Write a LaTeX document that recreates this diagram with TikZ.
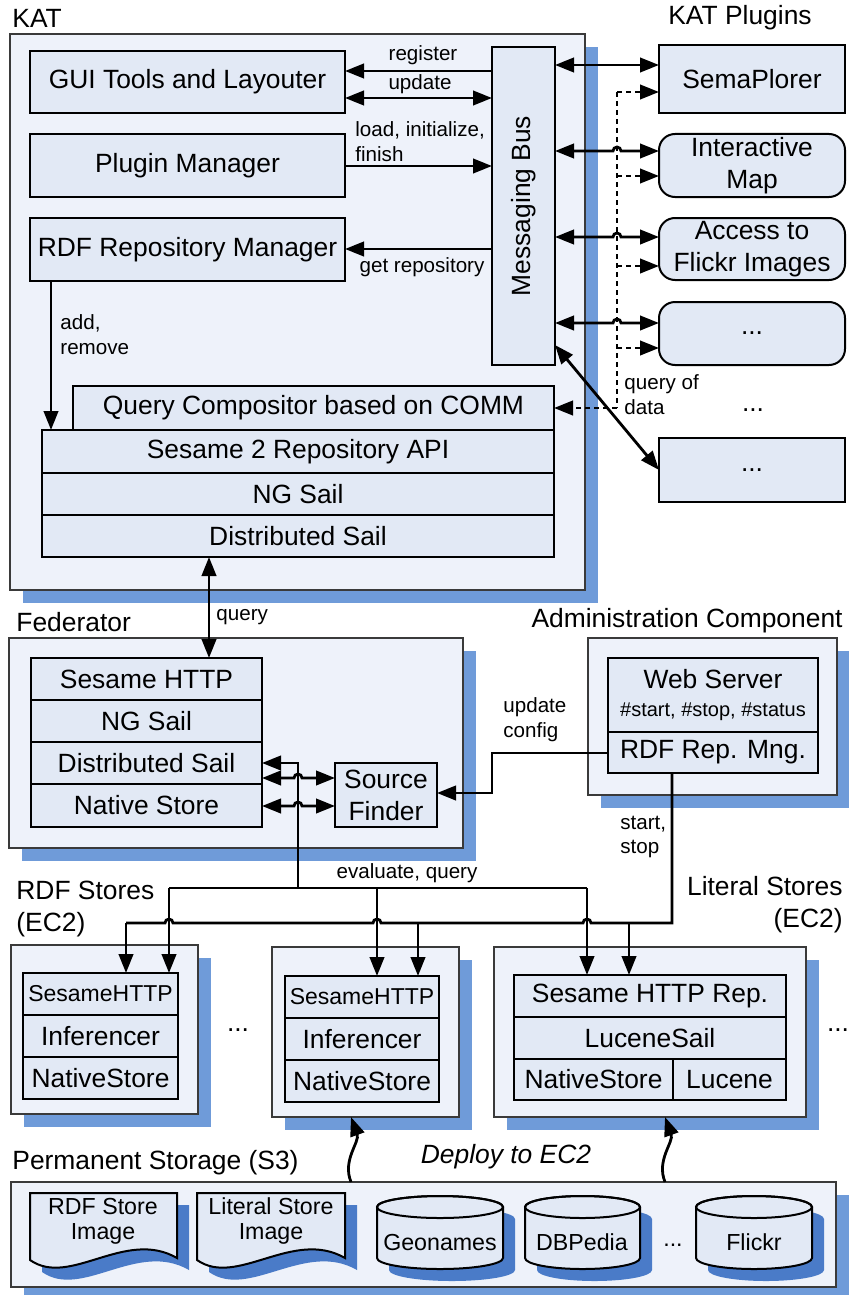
\documentclass[tikz,border=0pt]{standalone}
\usepackage{fontspec}
\setmainfont{Liberation Sans}
\usetikzlibrary{arrows.meta}
\definecolor{outerfill}{HTML}{EEF2FA}
\definecolor{innerfill}{HTML}{E2E9F5}
\definecolor{shadowc}{HTML}{6F9BD9}
\definecolor{shadowd}{HTML}{4A7BC8}
\definecolor{outerdraw}{HTML}{3A3A3A}
\newcommand{\fbig}{\fontsize{13.2}{16}\selectfont}
\newcommand{\flbl}{\fontsize{10.3}{12.4}\selectfont}
\newcommand{\bx}[7]{\node[#6, minimum width={0.5pt*(#4-#2)}, minimum height={0.5pt*(#5-#3)}] (#1) at ({(#2+#4)/2},{(#3+#5)/2}) {#7};}
\newcommand{\shd}[4]{\fill[shadowc] ({#1+13},{#2+13}) rectangle ({#3+13},{#4+13});}
\tikzset{
  tipa/.tip={Triangle[length=9.5pt,width=7.2pt]},
  outerbox/.style={draw=outerdraw, line width=0.6pt, fill=outerfill, inner sep=0pt, outer sep=0pt},
  innerbox/.style={draw=black, line width=1pt, fill=innerfill, inner sep=0pt, outer sep=0pt, align=center, font=\fbig},
  roundbox/.style={innerbox, rounded corners=8pt},
  conn/.style={line width=1.4pt},
  arr/.style={conn, -tipa},
  darr/.style={conn, tipa-tipa},
  dotl/.style={line width=1.4pt, dash pattern=on 2.5pt off 2pt},
  dotarr/.style={dotl, -tipa},
  lbl/.style={font=\flbl, inner sep=0pt, align=left},
  hdr/.style={font=\fbig, inner sep=0pt, align=left},
  txt/.style={font=\fbig, inner sep=0pt},
  doctext/.style={font=\fontsize{11.6}{12.5}\selectfont, inner sep=0pt, align=center},
  cylbody/.style={draw=black, line width=1pt, fill=innerfill},
}
\begin{document}
\begin{tikzpicture}[x=0.5pt,y=-0.5pt]
\useasboundingbox (0,0) rectangle (849,1295);
\fill[white] (0,0) rectangle (849,1295);

% ================= KAT =================
\node[hdr, anchor=west] (katlbl) at (12,18) {KAT};
\shd{10}{34}{585}{590}
\bx{kat}{10}{34}{585}{590}{outerbox}{}
\bx{gui}{30}{51}{345}{113}{innerbox}{GUI Tools and Layouter}
\bx{pm}{30}{134}{345}{197}{innerbox}{Plugin Manager}
\bx{rdfrm}{30}{218}{345}{281}{innerbox}{RDF Repository Manager}
\bx{bus}{492}{47}{555}{365}{innerbox}{}
\node[txt, rotate=90] (bustxt) at (bus) {Messaging Bus};
\bx{qc}{73}{386}{554}{430}{innerbox}{Query Compositor based on COMM}
\bx{sra}{42}{430}{554}{473}{innerbox}{Sesame 2 Repository API}
\bx{ngs}{42}{473}{554}{515}{innerbox}{NG Sail}
\bx{dsl}{42}{515}{554}{557}{innerbox}{Distributed Sail}

\draw[arr] (bus.west |- 0,71) -- (gui.east |- 0,71);
\node[lbl] (lreg) at (423,55) {register};
\draw[darr] (gui.east |- 0,98) -- (bus.west |- 0,98);
\node[lbl] (lupd) at (420,84) {update};
\draw[arr] (pm.east |- 0,166) -- (bus.west |- 0,166);
\node[lbl, anchor=west] (lload) at (355,142) {load, initialize,\\finish};
\draw[arr] (bus.west |- 0,249) -- (rdfrm.east |- 0,249);
\node[lbl] (lget) at (422,267) {get repository};
\draw[arr] (rdfrm.south -| 51,0) -- (sra.north -| 51,0);
\node[lbl, anchor=west] (ladd) at (60,335) {add,\\remove};

% ================= Plugins =================
\node[txt] (pluglbl) at (740,18) {KAT Plugins};
\bx{sp}{659}{45}{845}{113}{innerbox}{SemaPlorer}
\bx{im}{659}{134}{845}{197}{roundbox}{Interactive\\Map}
\bx{fl}{659}{218}{845}{280}{roundbox}{Access to\\Flickr Images}
\bx{pfour}{659}{302}{845}{365}{roundbox}{...}
\node[txt] (pdots) at (753,410) {...};
\bx{pfive}{659}{438}{845}{502}{innerbox}{...}

\draw[darr] (bus.east |- 0,65) -- (sp.west |- 0,65);
\draw[darr] (bus.east |- 0,151) -- (613,151) arc[start angle=180,end angle=360,radius=4] -- (im.west |- 0,151);
\draw[darr] (bus.east |- 0,237) -- (613,237) arc[start angle=180,end angle=360,radius=4] -- (fl.west |- 0,237);
\draw[darr] (bus.east |- 0,323) -- (613,323) arc[start angle=180,end angle=360,radius=4] -- (pfour.west |- 0,323);
\coordinate (dt) at (617,92);
\coordinate (db) at (617,408);
\draw[dotl] (dt) -- (db);
\draw[dotarr] (dt) -- (sp.west |- dt);
\draw[dotarr] (617,176) -- (im.west |- 0,176);
\draw[dotarr] (617,266) -- (fl.west |- 0,266);
\draw[dotarr] (617,348) -- (pfour.west |- 0,348);
\draw[dotarr] (db) -- (qc.east |- db);
\node[lbl, anchor=west] (lqod) at (624,395) {query of\\data};
\draw[darr] (bus.east |- 0,345) -- (pfive.west);

% ================= Federator =================
\node[hdr, anchor=west] (fedlbl) at (16,622) {Federator};
\shd{9}{638}{463}{848}
\bx{fed}{9}{638}{463}{848}{outerbox}{}
\bx{fsh}{31}{658}{262}{700}{innerbox}{Sesame HTTP}
\bx{fng}{31}{700}{262}{742}{innerbox}{NG Sail}
\bx{fds}{31}{742}{262}{784}{innerbox}{Distributed Sail}
\bx{fns}{31}{784}{262}{827}{innerbox}{Native Store}
\bx{sf}{335}{763}{437}{827}{innerbox}{Source\\Finder}

\draw[darr] (dsl.south -| 209,0) -- (fsh.north -| 209,0);
\node[lbl, anchor=west] (lquery) at (216,617) {query};

\coordinate (jt) at (298,763);
\coordinate (jb) at (298,888);
\draw[arr] (jb) -- (jt) -- (fds.east |- jt);
\draw[darr] (fds.east |- 0,778) -- (294,778) arc[start angle=180,end angle=360,radius=4] -- (sf.west |- 0,778);
\draw[darr] (fns.east |- 0,806) -- (294,806) arc[start angle=180,end angle=360,radius=4] -- (sf.west |- 0,806);

% ================= Administration =================
\node[hdr, anchor=east] (admlbl) at (843,621) {Administration Component};
\shd{588}{638}{837}{795}
\bx{adm}{588}{638}{837}{795}{outerbox}{}
\bx{web}{608}{658}{818}{732}{innerbox}{}
\node[txt] (webtxt) at (713,679) {Web Server};
\node[font=\fontsize{10}{12}\selectfont, inner sep=0pt] (webcmd) at (713,712) {\#start, \#stop, \#status};
\bx{arm}{608}{732}{818}{773}{innerbox}{RDF Rep. Mng.}

\draw[arr] (arm.west |- 0,753) -- (492,753) -- (492,793) -- (sf.east |- 0,793);
\node[lbl, anchor=west] (lupc) at (503,720) {update\\config};

% ================= Stores =================
\node[hdr, anchor=west] (rdfslbl) at (16,909) {RDF Stores\\(EC2)};
\node[hdr, anchor=east, align=right] (litlbl) at (843,905) {Literal Stores\\(EC2)};

\shd{11}{945}{198}{1114}
\bx{sone}{11}{945}{198}{1114}{outerbox}{}
\bx{sonea}{23}{973}{178}{1015}{innerbox, font=\fontsize{11.5}{14}\selectfont}{SesameHTTP}
\bx{soneb}{23}{1015}{178}{1057}{innerbox}{Inferencer}
\bx{sonec}{23}{1057}{178}{1099}{innerbox}{NativeStore}
\node[txt] (sdots) at (238,1030) {...};

\shd{272}{947}{459}{1117}
\bx{stwo}{272}{947}{459}{1117}{outerbox}{}
\bx{stwoa}{285}{976}{439}{1018}{innerbox, font=\fontsize{11.5}{14}\selectfont}{SesameHTTP}
\bx{stwob}{285}{1018}{439}{1060}{innerbox}{Inferencer}
\bx{stwoc}{285}{1060}{439}{1102}{innerbox}{NativeStore}

\shd{494}{947}{806}{1117}
\bx{sthr}{494}{947}{806}{1117}{outerbox}{}
\bx{sthra}{514}{975}{786}{1017}{innerbox}{Sesame HTTP Rep.}
\bx{sthrb}{514}{1017}{786}{1059}{innerbox}{LuceneSail}
\bx{sthrc}{514}{1059}{673}{1100}{innerbox}{NativeStore}
\bx{sthrd}{673}{1059}{786}{1100}{innerbox}{Lucene}
\node[txt] (rdots) at (838,1030) {...};

% evaluate, query
\draw[conn] (169,888) -- (587,888);
\node[lbl] (leval) at (407,873) {evaluate, query};
\draw[arr] (169,888) -- (sonea.north -| 169,0);
\draw[arr] (377,888) -- (stwoa.north -| 377,0);
\draw[arr] (587,888) -- (sthra.north -| 587,0);
% start, stop
\draw[conn] (arm.south -| 672,0) -- (672,923) -- (591,923) arc[start angle=0,end angle=-180,radius=4]
   -- (381,923) arc[start angle=0,end angle=-180,radius=4]
   -- (173,923) arc[start angle=0,end angle=-180,radius=4] -- (126,923);
\node[lbl, anchor=west] (lss) at (620,837) {start,\\stop};
\draw[arr] (126,923) -- (sonea.north -| 126,0);
\draw[arr] (418,923) -- (stwoa.north -| 418,0);
\draw[arr] (629,923) -- (sthra.north -| 629,0);

% ================= Permanent storage =================
\node[hdr, anchor=west] (permlbl) at (12,1163) {Permanent Storage (S3)};
\node[font=\fbig\itshape, inner sep=0pt] (deploy) at (506,1157) {Deploy to EC2};
\shd{11}{1182}{836}{1287}
\bx{perm}{11}{1182}{836}{1287}{outerbox}{}

\draw[arr] (perm.north -| 351,0) .. controls (342,1160) and (360,1142) .. (stwo.south -| 351,0);
\draw[arr] (perm.north -| 665,0) .. controls (656,1160) and (674,1142) .. (sthr.south -| 665,0);

% documents
\foreach \xa/\xb in {30/177, 197/345}{
  \fill[shadowd] ({\xa+12},{1193+12}) -- ({\xb+12},{1193+12}) -- ({\xb+12},{1258+12})
     .. controls ({\xb+12-52},{1228+12}) and ({\xa+12+40},{1288+12}) .. ({\xa+12},{1260+12}) -- cycle;
  \draw[cylbody] (\xa,1193) -- (\xb,1193) -- (\xb,1258)
     .. controls ({\xb-52},1228) and ({\xa+40},1288) .. (\xa,1260) -- cycle;
}
\node[doctext] (docone) at (103,1221) {RDF Store\\Image};
\node[doctext] (doctwo) at (271,1221) {Literal Store\\Image};

% cylinders
\foreach \xa/\xb in {377/503, 525/640, 696/812}{
  \pgfmathsetmacro{\rx}{(\xb-\xa)/2}
  \fill[shadowd] ({\xa+12},{1207+12}) -- ({\xa+12},{1258+12}) arc[start angle=180,end angle=0,x radius=\rx,y radius=11]
     -- ({\xb+12},{1207+12}) arc[start angle=0,end angle=-180,x radius=\rx,y radius=11] -- cycle;
  \draw[cylbody] (\xa,1207) -- (\xa,1258) arc[start angle=180,end angle=0,x radius=\rx,y radius=11]
     -- (\xb,1207) arc[start angle=0,end angle=-180,x radius=\rx,y radius=11] -- cycle;
  \draw[line width=1pt] ({(\xa+\xb)/2},1207) ellipse[x radius=\rx, y radius=11];
}
\node[font=\fontsize{11.6}{14}\selectfont, inner sep=0pt] (geo) at (440,1242) {Geonames};
\node[font=\fontsize{11.6}{14}\selectfont, inner sep=0pt] (dbp) at (582,1242) {DBPedia};
\node[font=\fontsize{11.6}{14}\selectfont, inner sep=0pt] (cdots) at (673,1245) {...};
\node[font=\fontsize{11.6}{14}\selectfont, inner sep=0pt] (flk) at (754,1242) {Flickr};
\end{tikzpicture}
\end{document}
